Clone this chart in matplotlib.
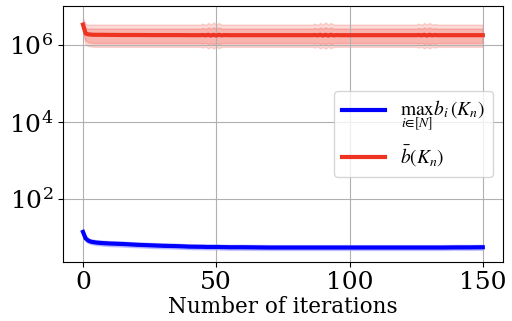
import numpy as np
import matplotlib
matplotlib.use("Agg")
import matplotlib.pyplot as plt

plt.rcParams['font.family'] = 'DejaVu Serif'
plt.rcParams['mathtext.fontset'] = 'stix'

# iterations sampled (denser where the curves wiggle)
iters = [0, 1, 2, 3, 4, 5, 7, 10, 15, 20, 25, 30, 35, 40, 44, 45, 46, 47, 48, 49, 50, 51, 52, 53,
         55, 60, 70, 80, 86, 87, 88, 89, 90, 91, 92, 93, 94, 95, 96, 100, 110, 120, 125, 126, 127,
         128, 129, 130, 131, 132, 133, 135, 140, 145, 150]

# max_i b_i(K_n)
max_b = [14, 9.5, 8.3, 7.8, 7.6, 7.4, 7.2, 7.0, 6.8, 6.5, 6.3, 6.1, 6.0, 5.8, 5.75, 5.75, 5.7, 5.7, 5.7,
         5.7, 5.7, 5.7, 5.65, 5.65, 5.6, 5.6, 5.5, 5.5, 5.5, 5.5, 5.5, 5.5, 5.5, 5.5, 5.5, 5.5, 5.5, 5.5,
         5.5, 5.5, 5.5, 5.5, 5.5, 5.5, 5.5, 5.5, 5.5, 5.5, 5.5, 5.5, 5.5, 5.5, 5.55, 5.55, 5.6]
max_b_lo = [11.5, 8.2, 7.2, 6.8, 6.6, 6.4, 6.2, 6.0, 5.8, 5.6, 5.4, 5.25, 5.15, 5.0, 4.95, 4.95, 4.9,
            4.9, 4.9, 4.9, 4.9, 4.9, 4.85, 4.85, 4.8, 4.8, 4.75, 4.75, 4.75, 4.75, 4.75, 4.75, 4.75,
            4.75, 4.75, 4.75, 4.75, 4.75, 4.75, 4.75, 4.75, 4.75, 4.75, 4.75, 4.75, 4.75, 4.75, 4.75,
            4.75, 4.75, 4.75, 4.75, 4.8, 4.8, 4.8]
max_b_hi = [17, 11.0, 9.6, 9.0, 8.8, 8.6, 8.4, 8.1, 7.9, 7.5, 7.3, 7.1, 6.95, 6.7, 6.65, 6.65, 6.6,
            6.6, 6.6, 6.6, 6.6, 6.6, 6.55, 6.55, 6.5, 6.5, 6.4, 6.4, 6.4, 6.4, 6.4, 6.4, 6.4, 6.4, 6.4,
            6.4, 6.4, 6.4, 6.4, 6.4, 6.4, 6.4, 6.4, 6.4, 6.4, 6.4, 6.4, 6.4, 6.4, 6.4, 6.4, 6.4, 6.45,
            6.45, 6.5]

# mean b(K_n)
mean_b = [3.3e6, 1.95e6, 1.85e6, 1.82e6, 1.8e6, 1.8e6, 1.8e6, 1.79e6, 1.78e6, 1.78e6, 1.77e6, 1.77e6,
          1.77e6, 1.76e6, 1.76e6, 1.78e6, 1.74e6, 1.8e6, 1.72e6, 1.8e6, 1.72e6, 1.8e6, 1.74e6, 1.77e6,
          1.76e6, 1.76e6, 1.76e6, 1.76e6, 1.76e6, 1.78e6, 1.74e6, 1.8e6, 1.72e6, 1.8e6, 1.72e6, 1.8e6,
          1.74e6, 1.77e6, 1.76e6, 1.76e6, 1.76e6, 1.76e6, 1.76e6, 1.78e6, 1.74e6, 1.8e6, 1.72e6, 1.8e6,
          1.74e6, 1.78e6, 1.76e6, 1.76e6, 1.76e6, 1.76e6, 1.76e6]
std_lo = [2.4e6, 1.3e6, 1.15e6, 1.12e6, 1.1e6, 1.1e6, 1.1e6, 1.1e6, 1.1e6, 1.1e6, 1.1e6, 1.1e6, 1.1e6,
          1.1e6, 1.1e6, 1.07e6, 1.11e6, 1.04e6, 1.1e6, 1.02e6, 1.1e6, 1.04e6, 1.09e6, 1.1e6, 1.1e6,
          1.1e6, 1.1e6, 1.1e6, 1.1e6, 1.07e6, 1.11e6, 1.04e6, 1.1e6, 1.02e6, 1.1e6, 1.04e6, 1.09e6,
          1.1e6, 1.1e6, 1.1e6, 1.1e6, 1.1e6, 1.1e6, 1.07e6, 1.11e6, 1.04e6, 1.1e6, 1.02e6, 1.1e6,
          1.05e6, 1.1e6, 1.1e6, 1.1e6, 1.1e6, 1.1e6]
std_hi = [4.2e6, 2.7e6, 2.6e6, 2.6e6, 2.6e6, 2.6e6, 2.6e6, 2.6e6, 2.6e6, 2.6e6, 2.6e6, 2.6e6, 2.6e6,
          2.6e6, 2.6e6, 2.7e6, 2.57e6, 2.78e6, 2.6e6, 2.82e6, 2.6e6, 2.78e6, 2.6e6, 2.6e6, 2.6e6,
          2.6e6, 2.6e6, 2.6e6, 2.6e6, 2.7e6, 2.57e6, 2.78e6, 2.6e6, 2.82e6, 2.6e6, 2.78e6, 2.6e6,
          2.6e6, 2.6e6, 2.6e6, 2.6e6, 2.6e6, 2.6e6, 2.7e6, 2.57e6, 2.78e6, 2.6e6, 2.78e6, 2.6e6,
          2.66e6, 2.6e6, 2.6e6, 2.6e6, 2.6e6, 2.6e6]
range_lo = [2.1e6, 1.0e6, 0.92e6, 0.9e6, 0.88e6, 0.88e6, 0.88e6, 0.88e6, 0.88e6, 0.88e6, 0.88e6,
            0.88e6, 0.88e6, 0.88e6, 0.88e6, 0.84e6, 0.89e6, 0.8e6, 0.88e6, 0.79e6, 0.88e6, 0.81e6,
            0.87e6, 0.88e6, 0.88e6, 0.88e6, 0.88e6, 0.88e6, 0.88e6, 0.84e6, 0.89e6, 0.8e6, 0.88e6,
            0.79e6, 0.88e6, 0.81e6, 0.87e6, 0.88e6, 0.88e6, 0.88e6, 0.88e6, 0.88e6, 0.88e6, 0.84e6,
            0.89e6, 0.8e6, 0.88e6, 0.8e6, 0.88e6, 0.84e6, 0.88e6, 0.88e6, 0.88e6, 0.88e6, 0.88e6]
range_hi = [4.9e6, 3.4e6, 3.3e6, 3.3e6, 3.3e6, 3.3e6, 3.3e6, 3.3e6, 3.3e6, 3.3e6, 3.3e6, 3.3e6,
            3.3e6, 3.3e6, 3.3e6, 3.5e6, 3.25e6, 3.65e6, 3.3e6, 3.75e6, 3.3e6, 3.65e6, 3.3e6, 3.3e6,
            3.3e6, 3.3e6, 3.3e6, 3.3e6, 3.3e6, 3.5e6, 3.25e6, 3.65e6, 3.3e6, 3.75e6, 3.3e6, 3.65e6,
            3.3e6, 3.3e6, 3.3e6, 3.3e6, 3.3e6, 3.3e6, 3.3e6, 3.5e6, 3.25e6, 3.65e6, 3.3e6, 3.65e6,
            3.3e6, 3.45e6, 3.3e6, 3.3e6, 3.3e6, 3.3e6, 3.3e6]

fig, ax = plt.subplots(figsize=(5.12, 3.21), dpi=100)

ax.fill_between(iters, max_b_lo, max_b_hi, color='blue', alpha=0.18, lw=1)
ax.plot(iters, max_b, color='blue', lw=3, label=r'$\max_{i\in[N]} b_i(K_n)$')

ax.fill_between(iters, range_lo, range_hi, color='#ee3322', alpha=0.18, lw=1)
ax.fill_between(iters, std_lo, std_hi, color='#ee3322', alpha=0.22, lw=1)
ax.plot(iters, mean_b, color='#ee3322', lw=3, label=r'$\bar{b}(K_n)$')

ax.set_yscale('log')
ax.set_xticks([0, 50, 100, 150])
ax.set_yticks([1e2, 1e4, 1e6])
ax.minorticks_off()
ax.tick_params(labelsize=18)
ax.set_xlabel('Number of iterations', fontsize=15.5, labelpad=1)
ax.grid(True, color='#b0b0b0', lw=0.8)
ax.legend(loc='center right', fontsize=14, handlelength=2.2)

fig.subplots_adjust(left=0.123, right=0.982, top=0.98, bottom=0.185)
fig.savefig('out.png')
